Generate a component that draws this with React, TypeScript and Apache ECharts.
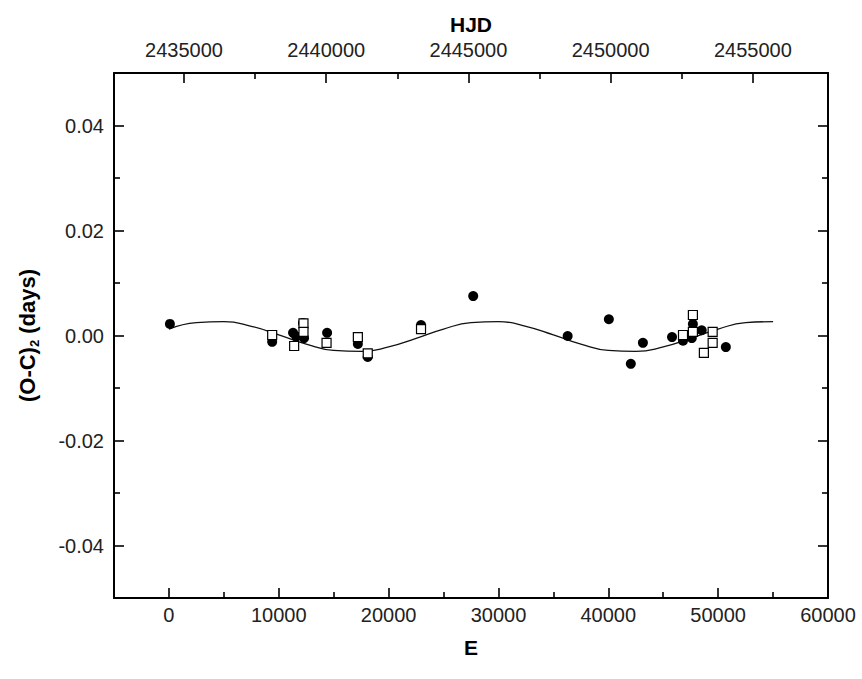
import React, { useEffect, useRef } from 'react';
import * as echarts from 'echarts';

// Filled circles (E, (O-C)2)
const CIRCLE_E = [90, 9400, 11300, 11600, 12200, 12300, 14400, 17200, 18100, 22950, 27700, 36300, 40050, 42050, 43150, 45800, 46800, 47600, 47700, 48500, 50700];
const CIRCLE_OC = [0.0022, -0.0012, 0.0005, -0.0002, 0.0024, -0.0005, 0.0005, -0.0016, -0.0041, 0.0020, 0.0075, -0.0001, 0.0031, -0.0054, -0.0014, -0.0003, -0.0010, -0.0005, 0.0022, 0.0010, -0.0022];

// Open squares (E, (O-C)2)
const SQUARE_E = [9400, 11400, 12250, 12250, 14350, 17200, 18100, 22950, 46800, 47700, 47700, 48700, 49500, 49500];
const SQUARE_OC = [0.0001, -0.0020, 0.0023, 0.0007, -0.0014, -0.0003, -0.0034, 0.0012, 0.0001, 0.0039, 0.0007, -0.0033, 0.0007, -0.0014];

// Fitted curve
const FIT_E = [0, 2500, 5000, 7500, 10000, 12500, 15000, 17500, 20000, 22500, 25000, 27500, 30000, 32500, 35000, 37500, 40000, 42500, 45000, 47500, 50000, 52500, 55000];
const FIT_OC = [0.00123, 0.00244, 0.00264, 0.00176, 0.00013, -0.00163, -0.00284, -0.00304, -0.00216, -0.00053, 0.00123, 0.00244, 0.00264, 0.00176, 0.00013, -0.00163, -0.00284, -0.00304, -0.00216, -0.00053, 0.00123, 0.00244, 0.00264];

// Axis ticks
const X_TICKS = [0, 10000, 20000, 30000, 40000, 50000, 60000];
const X_MINOR = [-5000, 5000, 15000, 25000, 35000, 45000, 55000];
const Y_TICKS = [-0.04, -0.02, 0, 0.02, 0.04];
const Y_MINOR = [-0.03, -0.01, 0.01, 0.03];
const HJD_TICKS = [2435000, 2440000, 2445000, 2450000, 2455000];
const HJD_MINOR = [2437500, 2442500, 2447500, 2452500];

const FONT = "'Liberation Sans', Arial, Helvetica, sans-serif";

export default function App() {
  const ref = useRef<HTMLDivElement>(null);

  useEffect(() => {
    document.body.style.margin = '0';
    const chart = echarts.init(ref.current!, null, { renderer: 'svg' });

    const axisLine = { show: true, onZero: false, lineStyle: { color: '#000', width: 2 } };
    const noLine = { show: false, onZero: false };
    const labelStyle = { fontSize: 20, color: '#222', fontFamily: FONT };
    const nameStyle = { fontSize: 21, fontWeight: 'bold', color: '#000', fontFamily: FONT };

    const xMin = -5000, xMax = 60000;
    const hMin = 2432540, hMax = 2457640;
    const yMin = -0.05, yMax = 0.05;

    const majorTick = (vals: number[]) => ({ show: true, inside: true, length: 10, customValues: vals, lineStyle: { color: '#000', width: 1.6 } });
    const minorTick = (vals: number[]) => ({ show: true, inside: true, length: 6, customValues: vals, lineStyle: { color: '#000', width: 1.6 } });

    const option: any = {
      animation: false,
      backgroundColor: '#fff',
      grid: { left: 114, right: 34, top: 73, bottom: 81, containLabel: false },
      xAxis: [
        {
          type: 'value', position: 'bottom', min: xMin, max: xMax,
          name: 'E', nameLocation: 'middle', nameGap: 39, nameTextStyle: nameStyle,
          axisLine, axisTick: majorTick(X_TICKS),
          axisLabel: { ...labelStyle, margin: 7, customValues: X_TICKS, formatter: (v: number) => String(v) },
          splitLine: { show: false },
        },
        {
          type: 'value', position: 'bottom', min: xMin, max: xMax,
          axisLine: noLine, axisTick: minorTick(X_MINOR),
          axisLabel: { show: false }, splitLine: { show: false },
        },
        {
          type: 'value', position: 'top', min: hMin, max: hMax,
          name: 'HJD', nameLocation: 'middle', nameGap: 38, nameTextStyle: nameStyle,
          axisLine, axisTick: majorTick(HJD_TICKS),
          axisLabel: { ...labelStyle, margin: 13, customValues: HJD_TICKS, formatter: (v: number) => String(v) },
          splitLine: { show: false },
        },
        {
          type: 'value', position: 'top', min: hMin, max: hMax,
          axisLine: noLine, axisTick: minorTick(HJD_MINOR),
          axisLabel: { show: false }, splitLine: { show: false },
        },
      ],
      yAxis: [
        {
          type: 'value', position: 'left', min: yMin, max: yMax,
          name: '{a|(O-C)}{s|2}{a| (days)}', nameLocation: 'middle', nameGap: 73, nameRotate: 90,
          nameTextStyle: {
            rich: {
              a: { fontSize: 22, fontWeight: 'bold', color: '#000', fontFamily: FONT, lineHeight: 28 },
              s: { fontSize: 13, fontWeight: 'bold', color: '#000', fontFamily: FONT, lineHeight: 10, verticalAlign: 'bottom' },
            },
          },
          axisLine, axisTick: majorTick(Y_TICKS),
          axisLabel: { ...labelStyle, margin: 10, customValues: Y_TICKS, formatter: (v: number) => v.toFixed(2) },
          splitLine: { show: false },
        },
        {
          type: 'value', position: 'left', min: yMin, max: yMax,
          axisLine: noLine, axisTick: minorTick(Y_MINOR),
          axisLabel: { show: false }, splitLine: { show: false },
        },
        {
          type: 'value', position: 'right', min: yMin, max: yMax,
          axisLine, axisTick: majorTick(Y_TICKS),
          axisLabel: { show: false }, splitLine: { show: false },
        },
        {
          type: 'value', position: 'right', min: yMin, max: yMax,
          axisLine: noLine, axisTick: minorTick(Y_MINOR),
          axisLabel: { show: false }, splitLine: { show: false },
        },
      ],
      series: [
        {
          type: 'line', xAxisIndex: 0, yAxisIndex: 0,
          data: FIT_E.map((e, i) => [e, FIT_OC[i]]),
          smooth: true, showSymbol: false, symbol: 'none',
          lineStyle: { color: '#111', width: 1.3 },
          z: 2,
        },
        {
          type: 'scatter', xAxisIndex: 0, yAxisIndex: 0,
          data: CIRCLE_E.map((e, i) => [e, CIRCLE_OC[i]]),
          symbol: 'circle', symbolSize: 10,
          itemStyle: { color: '#000', opacity: 1 },
          z: 3,
        },
        {
          type: 'scatter', xAxisIndex: 0, yAxisIndex: 0,
          data: SQUARE_E.map((e, i) => [e, SQUARE_OC[i]]),
          symbol: 'rect', symbolSize: 9,
          itemStyle: { color: '#fff', borderColor: '#000', borderWidth: 1.2, opacity: 1 },
          z: 4,
        },
      ],
    };

    chart.setOption(option);
    return () => chart.dispose();
  }, []);

  return <div ref={ref} style={{ width: 862, height: 679, background: '#fff' }} />;
}
